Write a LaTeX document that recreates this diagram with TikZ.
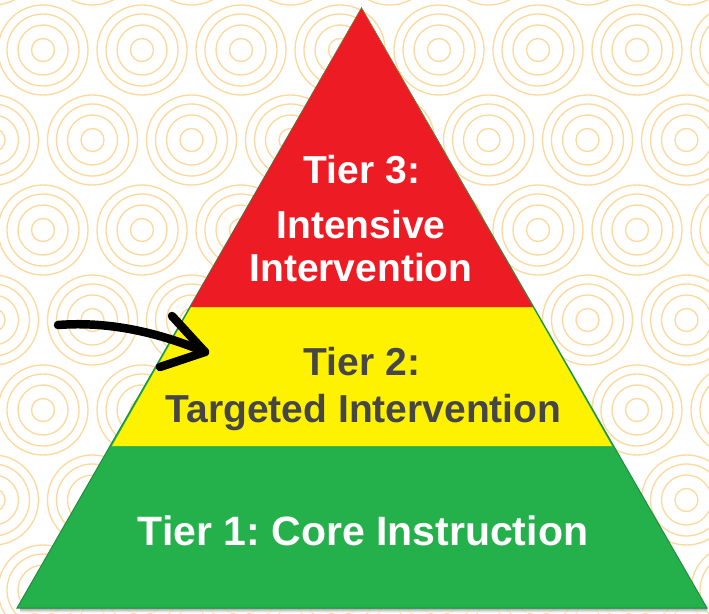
\documentclass[tikz,border=0pt]{standalone}
\usepackage{fontspec}
\setmainfont{Liberation Sans}
\frenchspacing
\begin{document}
\begin{tikzpicture}[x=1pt,y=-1pt,
  ring/.style={draw=ringc, line width=1.3pt},
  wt/.style={text=white, font=\bfseries\fontsize{39}{44}\selectfont, inner sep=0pt, anchor=base},
  dt/.style={text=darkt, font=\bfseries\fontsize{39}{44}\selectfont, inner sep=0pt, anchor=base},
  pointer/.style={line width=8.5pt, line cap=round, line join=round, draw=black}]
\definecolor{ringc}{HTML}{FCD89C}
\definecolor{tred}{HTML}{ED1C24}
\definecolor{tyel}{HTML}{FFF200}
\definecolor{tgrn}{HTML}{24B14C}
\definecolor{darkt}{HTML}{464646}
\useasboundingbox (0,0) rectangle (709,613);
\fill[white] (0,0) rectangle (709,613);
% background rings
\begin{scope}
\clip (0,0) rectangle (709,613);
\foreach \r in {0,...,8}{
  \pgfmathsetmacro{\yy}{-40+90*\r}
  \pgfmathsetmacro{\xo}{isodd(\r) ? 43 : 92.5}
  \foreach \k in {-1,...,7}{
    \foreach \rad in {11.5,25,36,45}{
      \draw[ring] ({\xo+99*\k},\yy) circle[radius=\rad];
    }
  }
}
\end{scope}
% shadow under base
\shade[top color=black!45, bottom color=white, opacity=0.8] (20,608) rectangle (707,612.5);
% pyramid
\coordinate (apex) at (361.5,8);
\coordinate (bl) at (17,608);
\coordinate (br) at (707,608);
\coordinate (yl) at (112,446);
\coordinate (yr) at (612,446);
\coordinate (rl) at (190,307);
\coordinate (rr) at (533,307);
\filldraw[fill=tgrn, draw=tgrn!80!black, line width=1pt] (apex) -- (bl) -- (br) -- cycle;
\fill[tyel] (apex) -- (yl) -- (yr) -- cycle;
\fill[tred] (apex) -- (rl) -- (rr) -- cycle;
% texts
\node[wt] (t3a) at (362,183) {Tier 3:};
\node[wt] (t3b) at (361,238) {Intensive};
\node[wt] (t3c) at (361,281) {Intervention};
\node[dt] (t2a) at (362,375) {Tier 2:};
\node[dt] (t2b) at (363.5,422) {Targeted Intervention};
\node[wt, font=\bfseries\fontsize{41}{46}\selectfont] (t1) at (363,545) {Tier 1: Core Instruction};
% arrow
\coordinate (atail) at (58,325);
\coordinate (atip) at (205,352);
\coordinate (hup) at (172,316);
\coordinate (hlo) at (160,367);
\draw[pointer] (atail) .. controls (110,321) and (160,333) .. (atip);
\draw[pointer] (hup) -- (atip) -- (hlo);
\end{tikzpicture}
\end{document}
